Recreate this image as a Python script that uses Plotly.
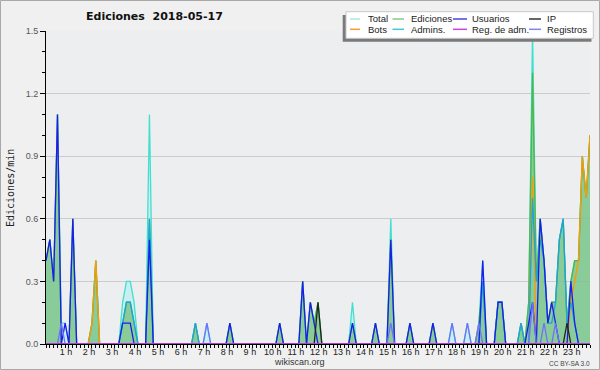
import plotly.graph_objects as go

# ---- data: edits per minute, 10-minute bins from 00:00 to 23:40 (one row per hour)
total = [
    0.4, 0.5, 0.3, 1.1, 0.1, 0.1,   # 0 h
    0, 0.6, 0, 0, 0, 0,             # 1 h
    0.1, 0.4, 0, 0, 0, 0,           # 2 h
    0, 0, 0.2, 0.3, 0.3, 0.2,       # 3 h
    0, 0, 0, 1.1, 0, 0,             # 4 h
    0, 0, 0, 0, 0, 0,               # 5 h
    0, 0, 0, 0.1, 0, 0,             # 6 h
    0.1, 0, 0, 0, 0, 0,             # 7 h
    0.1, 0, 0, 0, 0, 0,             # 8 h
    0, 0, 0, 0, 0, 0,               # 9 h
    0, 0.1, 0, 0, 0, 0,             # 10 h
    0, 0.3, 0, 0.2, 0.1, 0.2,       # 11 h
    0, 0, 0, 0, 0, 0,               # 12 h
    0, 0, 0.2, 0, 0, 0,             # 13 h
    0, 0, 0.1, 0, 0, 0,             # 14 h
    0.6, 0, 0, 0, 0, 0.1,           # 15 h
    0, 0, 0, 0, 0, 0.1,             # 16 h
    0, 0, 0, 0, 0.1, 0,             # 17 h
    0, 0, 0.1, 0, 0, 0.1,           # 18 h
    0.4, 0, 0, 0, 0.2, 0.2,         # 19 h
    0, 0, 0, 0, 0.1, 0,             # 20 h
    0.2, 1.5, 0.3, 0.6, 0.4, 0.1,   # 21 h
    0.2, 0.2, 0.5, 0.6, 0.1, 0.3,   # 22 h
    0.4, 0.4, 0.9, 0.7, 1.0,        # 23 h
]
ediciones = [
    0.4, 0.5, 0.3, 1.1, 0, 0,
    0, 0.6, 0, 0, 0, 0,
    0.1, 0.4, 0, 0, 0, 0,
    0, 0, 0.1, 0.2, 0.2, 0.1,
    0, 0, 0, 0.6, 0, 0,
    0, 0, 0, 0, 0, 0,
    0, 0, 0, 0.1, 0, 0,
    0, 0, 0, 0, 0, 0,
    0.1, 0, 0, 0, 0, 0,
    0, 0, 0, 0, 0, 0,
    0, 0.1, 0, 0, 0, 0,
    0, 0.3, 0, 0.2, 0.1, 0.2,
    0, 0, 0, 0, 0, 0,
    0, 0, 0.1, 0, 0, 0,
    0, 0, 0.1, 0, 0, 0,
    0.5, 0, 0, 0, 0, 0.1,
    0, 0, 0, 0, 0, 0.1,
    0, 0, 0, 0, 0, 0,
    0, 0, 0, 0, 0, 0.1,
    0.3, 0, 0, 0, 0.2, 0.2,
    0, 0, 0, 0, 0.1, 0,
    0.2, 1.3, 0.3, 0.6, 0.4, 0.1,
    0.2, 0.2, 0.5, 0.6, 0.1, 0.3,
    0.4, 0.4, 0.9, 0.7, 1.0,
]
usuarios = [
    0.4, 0.5, 0.3, 1.1, 0, 0.1,
    0, 0.6, 0, 0, 0, 0,
    0, 0, 0, 0, 0, 0,
    0, 0, 0.1, 0.1, 0.1, 0,
    0, 0, 0, 0.5, 0, 0,
    0, 0, 0, 0, 0, 0,
    0, 0, 0, 0, 0, 0,
    0, 0, 0, 0, 0, 0,
    0.1, 0, 0, 0, 0, 0,
    0, 0, 0, 0, 0, 0,
    0, 0.1, 0, 0, 0, 0,
    0, 0.3, 0, 0.2, 0.1, 0,
    0, 0, 0, 0, 0, 0,
    0, 0, 0.1, 0, 0, 0,
    0, 0, 0.1, 0, 0, 0,
    0.5, 0, 0, 0, 0, 0.1,
    0, 0, 0, 0, 0, 0.1,
    0, 0, 0, 0, 0, 0,
    0, 0, 0, 0, 0, 0,
    0.4, 0, 0, 0, 0.2, 0.2,
    0, 0, 0, 0, 0, 0,
    0.1, 0.2, 0, 0.6, 0.4, 0.1,
    0.2, 0.1, 0, 0, 0, 0.3,
    0.1, 0, 0, 0, 0,
]
ip = [
    0, 0, 0, 0, 0, 0,
    0, 0, 0, 0, 0, 0,
    0, 0, 0, 0, 0, 0,
    0, 0, 0, 0, 0, 0,
    0, 0, 0, 0, 0, 0,
    0, 0, 0, 0, 0, 0,
    0, 0, 0, 0, 0, 0,
    0, 0, 0, 0, 0, 0,
    0, 0, 0, 0, 0, 0,
    0, 0, 0, 0, 0, 0,
    0, 0, 0, 0, 0, 0,
    0, 0, 0, 0, 0, 0.2,
    0, 0, 0, 0, 0, 0,
    0, 0, 0, 0, 0, 0,
    0, 0, 0, 0, 0, 0,
    0, 0, 0, 0, 0, 0,
    0, 0, 0, 0, 0, 0,
    0, 0, 0, 0, 0, 0,
    0, 0, 0, 0, 0, 0,
    0, 0, 0, 0, 0, 0,
    0, 0, 0, 0, 0, 0,
    0, 0, 0, 0, 0, 0,
    0, 0, 0, 0, 0.1, 0,
    0, 0, 0, 0, 0,
]
bots = [
    0, 0, 0, 0, 0, 0,
    0, 0, 0, 0, 0, 0,
    0.1, 0.4, 0, 0, 0, 0,
    0, 0, 0, 0, 0, 0,
    0, 0, 0, 0, 0, 0,
    0, 0, 0, 0, 0, 0,
    0, 0, 0, 0, 0, 0,
    0, 0, 0, 0, 0, 0,
    0, 0, 0, 0, 0, 0,
    0, 0, 0, 0, 0, 0,
    0, 0, 0, 0, 0, 0,
    0, 0, 0, 0, 0, 0,
    0, 0, 0, 0, 0, 0,
    0, 0, 0, 0, 0, 0,
    0, 0, 0, 0, 0, 0,
    0, 0, 0, 0, 0, 0,
    0, 0, 0, 0, 0, 0,
    0, 0, 0, 0, 0, 0,
    0, 0, 0, 0, 0, 0,
    0, 0, 0, 0, 0, 0,
    0, 0, 0, 0, 0, 0,
    0, 0.8, 0, 0, 0, 0,
    0, 0, 0, 0, 0, 0.2,
    0.3, 0.4, 0.9, 0.7, 1.0,
]
admins = [
    0, 0, 0, 0, 0, 0,
    0, 0, 0, 0, 0, 0,
    0, 0, 0, 0, 0, 0,
    0, 0, 0.1, 0.2, 0.2, 0.1,
    0, 0, 0, 0.6, 0, 0,
    0, 0, 0, 0, 0, 0,
    0, 0, 0, 0.1, 0, 0,
    0, 0, 0, 0, 0, 0,
    0, 0, 0, 0, 0, 0,
    0, 0, 0, 0, 0, 0,
    0, 0, 0, 0, 0, 0,
    0, 0, 0, 0, 0, 0,
    0, 0, 0, 0, 0, 0,
    0, 0, 0, 0, 0, 0,
    0, 0, 0, 0, 0, 0,
    0, 0, 0, 0, 0, 0,
    0, 0, 0, 0, 0, 0,
    0, 0, 0, 0, 0, 0,
    0, 0, 0, 0, 0, 0,
    0.3, 0, 0, 0, 0.2, 0.2,
    0, 0, 0, 0, 0.1, 0,
    0, 0.7, 0.3, 0.5, 0.4, 0.1,
    0.1, 0.2, 0.5, 0.6, 0.1, 0.2,
    0.1, 0, 0, 0, 0,
]
registros = [
    0, 0, 0, 0, 0.1, 0,
    0, 0, 0, 0, 0, 0,
    0, 0, 0, 0, 0, 0,
    0, 0, 0, 0, 0, 0,
    0, 0, 0, 0, 0, 0,
    0, 0, 0, 0, 0, 0,
    0, 0, 0, 0, 0, 0,
    0.1, 0, 0, 0, 0, 0,
    0, 0, 0, 0, 0, 0,
    0, 0, 0, 0, 0, 0,
    0, 0, 0, 0, 0, 0,
    0, 0, 0, 0, 0, 0,
    0, 0, 0, 0, 0, 0,
    0, 0, 0, 0, 0, 0,
    0, 0, 0, 0, 0, 0,
    0.1, 0, 0, 0, 0, 0,
    0, 0, 0, 0, 0, 0,
    0, 0, 0, 0, 0.1, 0,
    0, 0, 0.1, 0, 0, 0.1,
    0, 0, 0, 0, 0, 0,
    0, 0, 0, 0, 0, 0,
    0, 0.2, 0, 0, 0.1, 0,
    0, 0.1, 0, 0, 0, 0,
    0, 0, 0, 0, 0,
]
reg_adm = [0] * len(total)

hour_ticks = list(range(1, 24))
hour_labels = [f"{h} h" for h in hour_ticks]
x = [i / 6 for i in range(len(total))]

legend_names = ["Total", "Ediciones", "Usuarios", "IP",
                "Bots", "Admins.", "Reg. de adm.", "Registros"]
legend_colors = ["#ace6e2", "#88c888", "#4646dc", "#333333",
                 "#ff9a33", "#44c6dc", "#cc44dd", "#8484ee"]

# ---- figure geometry (pixels)
W, H = 600, 370
L, R, T, B = 46, 10, 31, 26
PW, PH = W - L - R, H - T - B


def px(v):
    return (v - L) / PW


def py(v):
    return (H - B - v) / PH


fig = go.Figure()
fig.add_trace(go.Scatter(x=x, y=total, mode="lines", fill="tozeroy",
                         line=dict(color="#40e0d0", width=1.3),
                         fillcolor="rgba(175,238,238,0.6)"))
fig.add_trace(go.Scatter(x=x, y=ediciones, mode="lines", fill="tozeroy",
                         line=dict(color="#4cb84c", width=1.3),
                         fillcolor="rgba(92,178,92,0.58)"))
for ys, col in [(bots, "#ff9900"), (admins, "#1fa3dc"), (usuarios, "#1c1cf0"),
                (ip, "#222222"), (registros, "#7070ff"), (reg_adm, "#cc33cc")]:
    fig.add_trace(go.Scatter(x=x, y=ys, mode="lines",
                             line=dict(color=col, width=1.3)))

shapes = [
    # outer frame
    dict(type="rect", xref="paper", yref="paper", x0=px(0.5), x1=px(599.5),
         y0=py(369.5), y1=py(0.5), line=dict(color="#a8a8a8", width=1),
         layer="below"),
    # legend shadow + box
    dict(type="rect", xref="paper", yref="paper", x0=px(342.7), x1=px(591.5),
         y0=py(41.7), y1=py(15), fillcolor="#7a7a7a", line=dict(width=0)),
    dict(type="rect", xref="paper", yref="paper", x0=px(346), x1=px(593.3),
         y0=py(38.3), y1=py(11.7), fillcolor="white",
         line=dict(color="#c8c8c8", width=1)),
]
annotations = [
    dict(text="<b>Ediciones  2018-05-17</b>", x=px(154), y=py(16.5),
         xanchor="center", yanchor="middle",
         font=dict(family="DejaVu Sans", size=11, color="#111")),
    dict(text="Ediciones/min", x=px(10), y=py(188), textangle=-90,
         xanchor="center", yanchor="middle",
         font=dict(family="DejaVu Sans Mono", size=10, color="#222")),
    dict(text="wikiscan.org", x=px(299), y=py(362),
         xanchor="center", yanchor="middle",
         font=dict(family="Liberation Sans", size=9, color="#333")),
    dict(text="CC BY-SA 3.0", x=px(569), y=py(363),
         xanchor="center", yanchor="middle",
         font=dict(family="Liberation Sans", size=6.5, color="#444")),
]
col_line = [(350, 360), (392.5, 404), (453, 467), (529, 541)]
col_text = [366, 408.5, 469.5, 545]
row_y = [19, 29.3]
for k, (name, col) in enumerate(zip(legend_names, legend_colors)):
    r, c = divmod(k, 4)
    shapes.append(dict(type="line", xref="paper", yref="paper",
                       x0=px(col_line[c][0]), x1=px(col_line[c][1]),
                       y0=py(row_y[r]), y1=py(row_y[r]),
                       line=dict(color=col, width=1.5)))
    annotations.append(dict(text=name, x=px(col_text[c]), y=py(row_y[r]),
                            xanchor="left", yanchor="middle",
                            font=dict(family="Liberation Sans", size=9.5,
                                      color="#222")))
for a in annotations:
    a.update(xref="paper", yref="paper", showarrow=False)

fig.update_layout(
    width=W, height=H, margin=dict(l=L, r=R, t=T, b=B),
    paper_bgcolor="#f0f0f0", plot_bgcolor="#edeef0",
    showlegend=False, hovermode=False,
    shapes=shapes, annotations=annotations,
    xaxis=dict(range=[0, x[-1]], tickmode="array", tickvals=hour_ticks,
               ticktext=hour_labels, ticks="outside", ticklen=3,
               tickcolor="black", showgrid=False, zeroline=False,
               showline=True, linecolor="black", linewidth=1,
               ticklabelshift=-3, ticklabelstandoff=-4,
               tickfont=dict(family="Liberation Sans", size=9, color="#222"),
               minor=dict(tickmode="linear", tick0=0, dtick=1 / 6,
                          ticks="outside", ticklen=3, tickcolor="black",
                          showgrid=False)),
    yaxis=dict(range=[0, 1.5], tickmode="linear", tick0=0, dtick=0.3,
               tickformat=".1f", ticks="outside", ticklen=5,
               tickcolor="black", showgrid=True, gridcolor="#cccccc",
               gridwidth=1, zeroline=False, showline=True,
               linecolor="black", linewidth=1,
               tickfont=dict(family="Liberation Sans", size=9, color="#555"),
               minor=dict(tickmode="linear", tick0=0, dtick=0.1,
                          ticks="outside", ticklen=3, tickcolor="black",
                          showgrid=False)),
)

fig.write_html("out.html")
